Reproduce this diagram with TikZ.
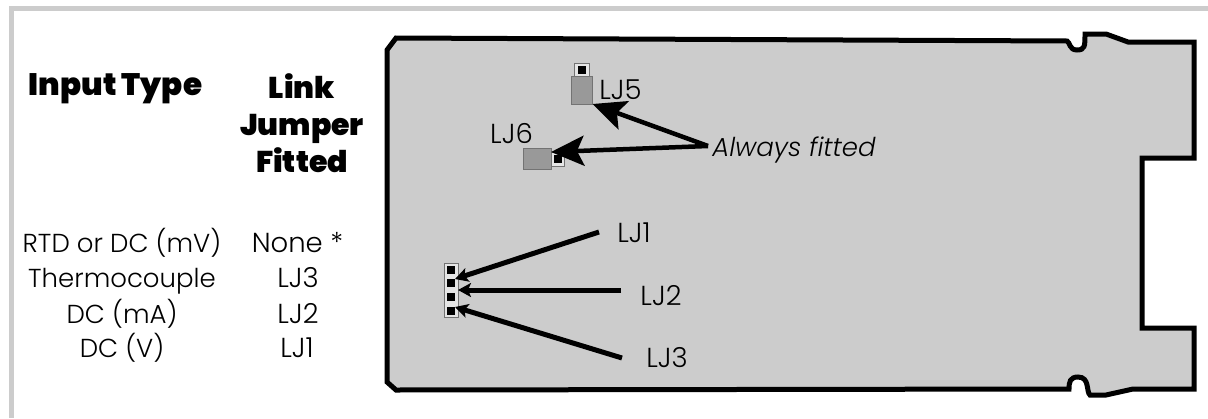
\documentclass[tikz,border=0pt]{standalone}
\usepackage{fontspec}
\setmainfont{Poppins}[UprightFont=* Light,ItalicFont=* Light Italic,BoldFont=* Black]
\usetikzlibrary{arrows.meta}

\begin{document}
\begin{tikzpicture}
[x=1pt,y=-1pt,
  frameDecorate/.style={draw=black!20,line width=5pt},
  boardDecorate/.style={draw=black,fill=black!20,line width=5pt,line join=miter},
  bodyDecorate/.style={shape=rectangle,draw=black!55,fill=black!40,line width=1pt,inner sep=0pt,outer sep=0pt},
  pinBoxDecorate/.style={shape=rectangle,draw=black!55,fill=black!10,line width=1pt,inner sep=0pt,outer sep=0pt},
  pinDecorate/.style={shape=rectangle,fill=black,minimum size=8pt,inner sep=0pt,outer sep=0pt},
  bigArrow/.style={-{Stealth[length=33pt,width=30pt,inset=7pt]},line width=4.5pt},
  smallArrow/.style={-{Stealth[length=13pt,width=14pt,inset=3pt]},line width=5pt},
  headDecorate/.style={font=\fontsize{30}{37}\selectfont\bfseries,anchor=base,inner sep=0pt},
  textDecorate/.style={font=\fontsize{26}{30}\selectfont,anchor=base,inner sep=0pt},
  labelDecorate/.style={font=\fontsize{27.5}{30}\selectfont,anchor=base,inner sep=0pt}]
\useasboundingbox (0,0) rectangle (1208,418);
%% frame and board
\draw[frameDecorate] (1208,8.5) -- (11.5,8.5) -- (11.5,418);
\draw[boardDecorate] (387,50) -- (396,38) -- (1067,41)
  .. controls (1070,42) and (1069,50) .. (1077,50)
  .. controls (1085,50) and (1085,46) .. (1085,34)
  -- (1106,34) -- (1128,42) -- (1194,42) -- (1194,158) -- (1142,158)
  -- (1142,328) -- (1194,328) -- (1194,389) -- (1133,389) -- (1106,395) -- (1090,395)
  .. controls (1086,392) and (1090,377) .. (1078,377)
  .. controls (1070,377) and (1069,382) .. (1069,389)
  -- (396,390) -- (387,382) -- cycle;
%% table
\node[headDecorate,font=\fontsize{31}{37}\selectfont\bfseries] (inputhead) at (115.5,95) {Input Type};
\foreach \nodename/\y/\txt in {headlink/98/Link, headjumper/135/Jumper, headfitted/172/Fitted}
{
  \node[headDecorate] (\nodename) at (302,\y) {\txt};
}
\foreach \nodename/\y/\txt in {
  rtd/252/RTD or DC (mV), thermo/287/Thermocouple,
  dcma/323/DC (mA), dcv/357/DC (V)}
{
  \node[textDecorate] (\nodename) at (122,\y) {\txt};
}
\foreach \nodename/\x/\y/\txt in {
  none/297.5/252/None *, linkc/298/287/LJ3,
  linkb/298/323/LJ2, linka/297/357/LJ1,
  lja/634/242/LJ1, ljb/661/305/LJ2, ljc/667/367/LJ3,
  ljf/620.5/99/LJ5, ljg/511.5/143/LJ6}
{
  \node[labelDecorate] (\nodename) at (\x,\y) {\txt};
}
\node[textDecorate] (fitted) at (794,156) {\itshape Always fitted};
%% jumpers
\node[bodyDecorate,minimum width=21pt,minimum height=28pt] (bodyf) at (582,90) {};
\node[pinBoxDecorate,minimum width=15pt,minimum height=13pt] (boxf) at (581.5,69.5) {};
\node[pinDecorate] at (boxf) {};
\node[bodyDecorate,minimum width=28pt,minimum height=21pt] (bodyg) at (537,158.5) {};
\node[pinBoxDecorate,minimum width=13pt,minimum height=14pt] (boxg) at (557.5,159) {};
\node[pinDecorate] at (boxg) {};
%% header
\node[pinBoxDecorate,minimum width=14pt,minimum height=54pt] (header) at (451,290) {};
\foreach \nodename/\y in {pina/270, pinb/283, pinc/297, pind/311}
{
  \node (\nodename) at (451,\y) [pinDecorate] {};
}
%% edges or lines
\coordinate (fittedstart) at (708,146);
\coordinate (ljastart) at (599,232);
\coordinate (ljbstart) at (621,290);
\coordinate (ljcstart) at (622,358);
\draw[bigArrow] (fittedstart) -- (bodyf.south east);
\draw[bigArrow] (fittedstart) -- (boxg.north west);
\draw[smallArrow] (ljastart) -- (pinb.north east);
\draw[smallArrow] (ljbstart) -- (header.east);
\draw[smallArrow] (ljcstart) -- (pind.north east);
\end{tikzpicture}
\end{document}
